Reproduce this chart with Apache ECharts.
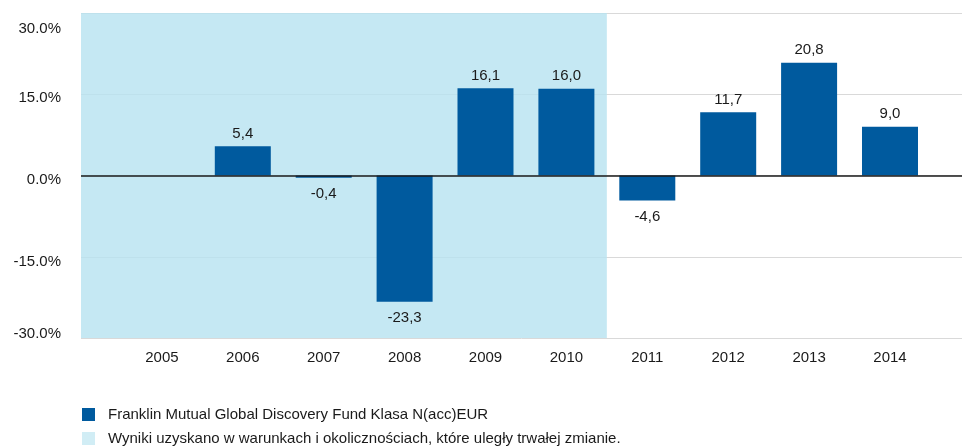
<!DOCTYPE html>
<html>
<head>
<meta charset="utf-8">
<script src="https://cdn.jsdelivr.net/npm/echarts@6/dist/echarts.min.js"></script>
<style>html,body{margin:0;padding:0;background:#fff}#c{width:965px;height:448px}</style>
</head>
<body>
<div id="c"></div>
<script>
const years = ['2005','2006','2007','2008','2009','2010','2011','2012','2013','2014'];
const values = [null, 5.4, -0.4, -23.3, 16.1, 16.0, -4.6, 11.7, 20.8, 9.0];
const yTicks = [-30, -15, 0, 15, 30];
const seriesName = 'Franklin Mutual Global Discovery Fund Klasa N(acc)EUR';
const shadeName = 'Wyniki uzyskano w warunkach i okolicznościach, które uległy trwałej zmianie.';
const shadeEnd = 6.5; // boundary between 2010 and 2011

const FONT = '"Liberation Sans", Arial, sans-serif';
const TXT = '#1a1a1a';
const FS = 15;
const chart = echarts.init(document.getElementById('c'));

const barData = values.map((v, i) => v === null ? null : ({
  value: [i + 1, v],
  label: v >= 0 ? {position: 'top', distance: 5} : {position: 'bottom', distance: 9}
})).filter(d => d);

const richMap = {'30': 'a', '15': 'b', '0': 'c', '-15': 'd', '-30': 'e'};
const legendBase = {
  orient: 'horizontal', itemWidth: 13, itemHeight: 13, icon: 'rect', padding: 0,
  textStyle: {fontSize: FS, color: TXT, fontFamily: FONT, padding: [0, 0, 0, 8]}
};

chart.setOption({
  animation: false,
  textStyle: {fontFamily: FONT},
  grid: {left: 81, right: 0, top: 13, bottom: 110, containLabel: false},
  legend: [
    Object.assign({}, legendBase, {left: 82, top: 407, data: [seriesName]}),
    Object.assign({}, legendBase, {left: 82, top: 431, data: [shadeName]})
  ],
  xAxis: {
    type: 'value', min: 0, max: 10.89, interval: 1,
    axisLine: {show: false}, axisTick: {show: false}, splitLine: {show: false},
    axisLabel: {
      fontSize: FS, color: TXT, margin: 12, fontFamily: FONT,
      formatter: v => (Number.isInteger(v) && v >= 1 && v <= years.length) ? years[v - 1] : ''
    }
  },
  yAxis: {
    type: 'value', min: yTicks[0], max: yTicks[yTicks.length - 1], interval: 15,
    axisLine: {show: false}, axisTick: {show: false},
    splitLine: {lineStyle: {color: '#d9d9d9', width: 1}},
    axisLabel: {
      fontSize: FS, color: TXT, margin: 20, fontFamily: FONT,
      formatter: v => '{' + (richMap[String(v)] || 'c') + '|' + v.toFixed(1) + '%}',
      rich: {
        a: {fontSize: FS, color: TXT, padding: [32, 0, 0, 0]},
        b: {fontSize: FS, color: TXT, padding: [8, 0, 0, 0]},
        c: {fontSize: FS, color: TXT, padding: [9, 0, 0, 0]},
        d: {fontSize: FS, color: TXT, padding: [10, 0, 0, 0]},
        e: {fontSize: FS, color: TXT, padding: [0, 0, 8, 0]}
      }
    }
  },
  series: [
    {
      name: seriesName, type: 'bar', barWidth: 56,
      itemStyle: {color: '#005a9e'},
      label: {show: true, fontSize: FS, color: TXT, fontFamily: FONT,
        formatter: p => p.value[1].toFixed(1).replace('.', ',')},
      data: barData,
      markArea: {
        silent: true,
        itemStyle: {color: 'rgba(182,226,240,0.8)'},
        data: [[{xAxis: 0}, {xAxis: shadeEnd}]]
      },
      markLine: {
        silent: true, symbol: 'none',
        label: {show: false},
        lineStyle: {color: '#1a1a1a', width: 1.5, type: 'solid'},
        data: [{yAxis: 0}]
      },
      z: 3
    },
    {
      name: shadeName, type: 'scatter', data: [],
      itemStyle: {color: '#c5e8f3'}
    }
  ]
});
</script>
</body>
</html>
